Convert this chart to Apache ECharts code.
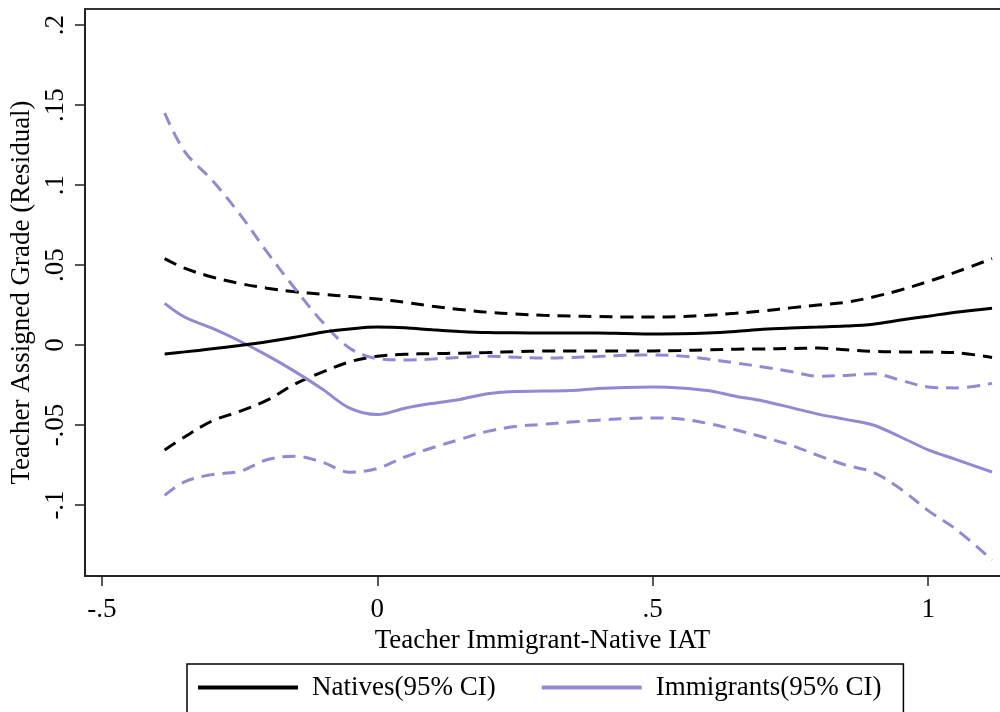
<!DOCTYPE html>
<html>
<head>
<meta charset="utf-8">
<script src="https://cdn.jsdelivr.net/npm/echarts@6/dist/echarts.min.js"></script>
<style>
html,body{margin:0;padding:0;background:#fff;}
#chart{width:1000px;height:712px;}
</style>
</head>
<body>
<div id="chart"></div>
<script>
const xs = [-0.386,-0.35,-0.30,-0.25,-0.20,-0.15,-0.10,-0.05,0.00,0.05,0.10,0.15,0.20,0.25,0.30,0.35,0.40,0.45,0.50,0.55,0.60,0.65,0.70,0.75,0.80,0.85,0.90,0.95,1.00,1.05,1.116];

const nativesMid = [-0.0056,-0.0043,-0.0024,-0.0003,0.002,0.0048,0.008,0.0100,0.0112,0.0108,0.0095,0.0085,0.0078,0.0076,0.0075,0.0075,0.0075,0.0072,0.0069,0.0070,0.0075,0.0085,0.0098,0.0106,0.0112,0.0118,0.013,0.0156,0.018,0.0205,0.023];
const nativesUpper = [0.054,0.048,0.0425,0.0385,0.0355,0.0333,0.0317,0.0303,0.0288,0.0267,0.0242,0.0222,0.0205,0.0194,0.0186,0.0181,0.0178,0.0175,0.0175,0.0178,0.0186,0.0198,0.0213,0.0232,0.0250,0.0266,0.030,0.0344,0.0397,0.0455,0.054];
const nativesLower = [-0.0656,-0.0575,-0.0475,-0.0415,-0.0345,-0.0245,-0.017,-0.0105,-0.0070,-0.0058,-0.0054,-0.0051,-0.0047,-0.0042,-0.0038,-0.0038,-0.0038,-0.0038,-0.0037,-0.0035,-0.0030,-0.0026,-0.0025,-0.0022,-0.0019,-0.003,-0.0040,-0.0043,-0.0044,-0.0048,-0.0078];

const immMid = [0.026,0.0175,0.0105,0.0025,-0.0065,-0.0165,-0.0275,-0.0395,-0.0435,-0.0395,-0.0365,-0.0340,-0.0305,-0.0290,-0.0288,-0.0285,-0.0272,-0.0265,-0.0263,-0.0268,-0.0285,-0.0320,-0.0350,-0.0390,-0.0432,-0.0465,-0.0500,-0.0575,-0.0655,-0.0715,-0.0794];
const immUpper = [0.145,0.121,0.103,0.082,0.058,0.0355,0.0145,-0.002,-0.0085,-0.0093,-0.0088,-0.0078,-0.0070,-0.0076,-0.0082,-0.0078,-0.0072,-0.0064,-0.0063,-0.0068,-0.0088,-0.0112,-0.0137,-0.0165,-0.0195,-0.019,-0.018,-0.022,-0.0262,-0.0268,-0.024];
const immLower = [-0.094,-0.0855,-0.081,-0.079,-0.0717,-0.0695,-0.0732,-0.0795,-0.0772,-0.0700,-0.0642,-0.0590,-0.0540,-0.0510,-0.0496,-0.0482,-0.0470,-0.0460,-0.0456,-0.0462,-0.0490,-0.0530,-0.0575,-0.0625,-0.0690,-0.0750,-0.0795,-0.090,-0.1035,-0.1150,-0.1344];

const xTickValues = [-0.5, 0, 0.5, 1];
const xTickLabels = ['-.5', '0', '.5', '1'];
const yTickValues = [-0.1, -0.05, 0, 0.05, 0.1, 0.15, 0.2];
const yTickLabels = ['-.1', '-.05', '0', '.05', '.1', '.15', '.2'];

const seriesNames = ['Natives(95% CI)', 'Immigrants(95% CI)'];
const xTitle = 'Teacher Immigrant-Native IAT';
const yTitle = 'Teacher Assigned Grade (Residual)';

const BLACK = '#000000';
const PURPLE = '#9189d3';
const FONT = '"Liberation Serif", "DejaVu Serif", serif';
const X_MIN = -0.5308, X_MAX = 1.1304;

function pairs(ys) { return xs.map((x, i) => [x, ys[i]]); }
function labelFor(values, labels) {
  return function (v) {
    for (let i = 0; i < values.length; i++) {
      if (Math.abs(values[i] - v) < 1e-9) return labels[i];
    }
    return '';
  };
}

function lineSeries(name, ys, color, dashed) {
  return {
    name: name,
    type: 'line',
    data: pairs(ys),
    showSymbol: false,
    symbol: 'none',
    smooth: 0.35,
    color: color,
    lineStyle: { color: color, width: 3, type: dashed ? [13, 8] : 'solid' },
    emphasis: { disabled: true },
    z: dashed ? 2 : 3
  };
}

const chart = echarts.init(document.getElementById('chart'), null, { renderer: 'canvas' });
chart.setOption({
  backgroundColor: '#ffffff',
  animation: false,
  grid: { left: 83, top: 9, right: 0, bottom: 136, show: false },
  legend: {
    data: seriesNames,
    left: 187, top: 664,
    orient: 'horizontal',
    icon: 'rect',
    itemWidth: 100, itemHeight: 4,
    itemGap: 46,
    padding: [10, 22, 40, 11],
    borderColor: '#000', borderWidth: 1.5,
    textStyle: { fontFamily: FONT, fontSize: 27, color: '#000', padding: [0, 0, 0, 9] }
  },
  xAxis: [{
    type: 'value',
    min: X_MIN, max: X_MAX,
    name: xTitle,
    nameLocation: 'middle',
    nameGap: 46,
    nameTextStyle: { fontFamily: FONT, fontSize: 27, color: '#000' },
    axisLine: { show: true, onZero: false, lineStyle: { color: '#222', width: 2 } },
    axisTick: { show: true, length: 10, lineStyle: { color: '#222', width: 1.5 }, customValues: xTickValues },
    axisLabel: { fontFamily: FONT, fontSize: 27, color: '#000', margin: 20, customValues: xTickValues, formatter: labelFor(xTickValues, xTickLabels) },
    splitLine: { show: false }
  }, {
    type: 'value',
    position: 'top',
    min: X_MIN, max: X_MAX,
    axisLine: { show: true, onZero: false, lineStyle: { color: '#333', width: 2 } },
    axisTick: { show: false },
    axisLabel: { show: false },
    splitLine: { show: false }
  }],
  yAxis: {
    type: 'value',
    min: -0.144375, max: 0.21,
    name: yTitle,
    nameLocation: 'middle',
    nameRotate: 90,
    nameGap: 48,
    nameTextStyle: { fontFamily: FONT, fontSize: 27, color: '#000' },
    axisLine: { show: true, onZero: false, lineStyle: { color: '#222', width: 2 } },
    axisTick: { show: true, length: 10, lineStyle: { color: '#222', width: 1.5 }, customValues: yTickValues },
    axisLabel: { fontFamily: FONT, fontSize: 27, color: '#000', margin: 15, rotate: 90, customValues: yTickValues, formatter: labelFor(yTickValues, yTickLabels) },
    splitLine: { show: false }
  },
  series: [
    lineSeries('Natives upper', nativesUpper, BLACK, true),
    lineSeries('Natives lower', nativesLower, BLACK, true),
    lineSeries('Immigrants upper', immUpper, PURPLE, true),
    lineSeries('Immigrants lower', immLower, PURPLE, true),
    lineSeries(seriesNames[1], immMid, PURPLE, false),
    lineSeries(seriesNames[0], nativesMid, BLACK, false)
  ]
});
</script>
</body>
</html>
